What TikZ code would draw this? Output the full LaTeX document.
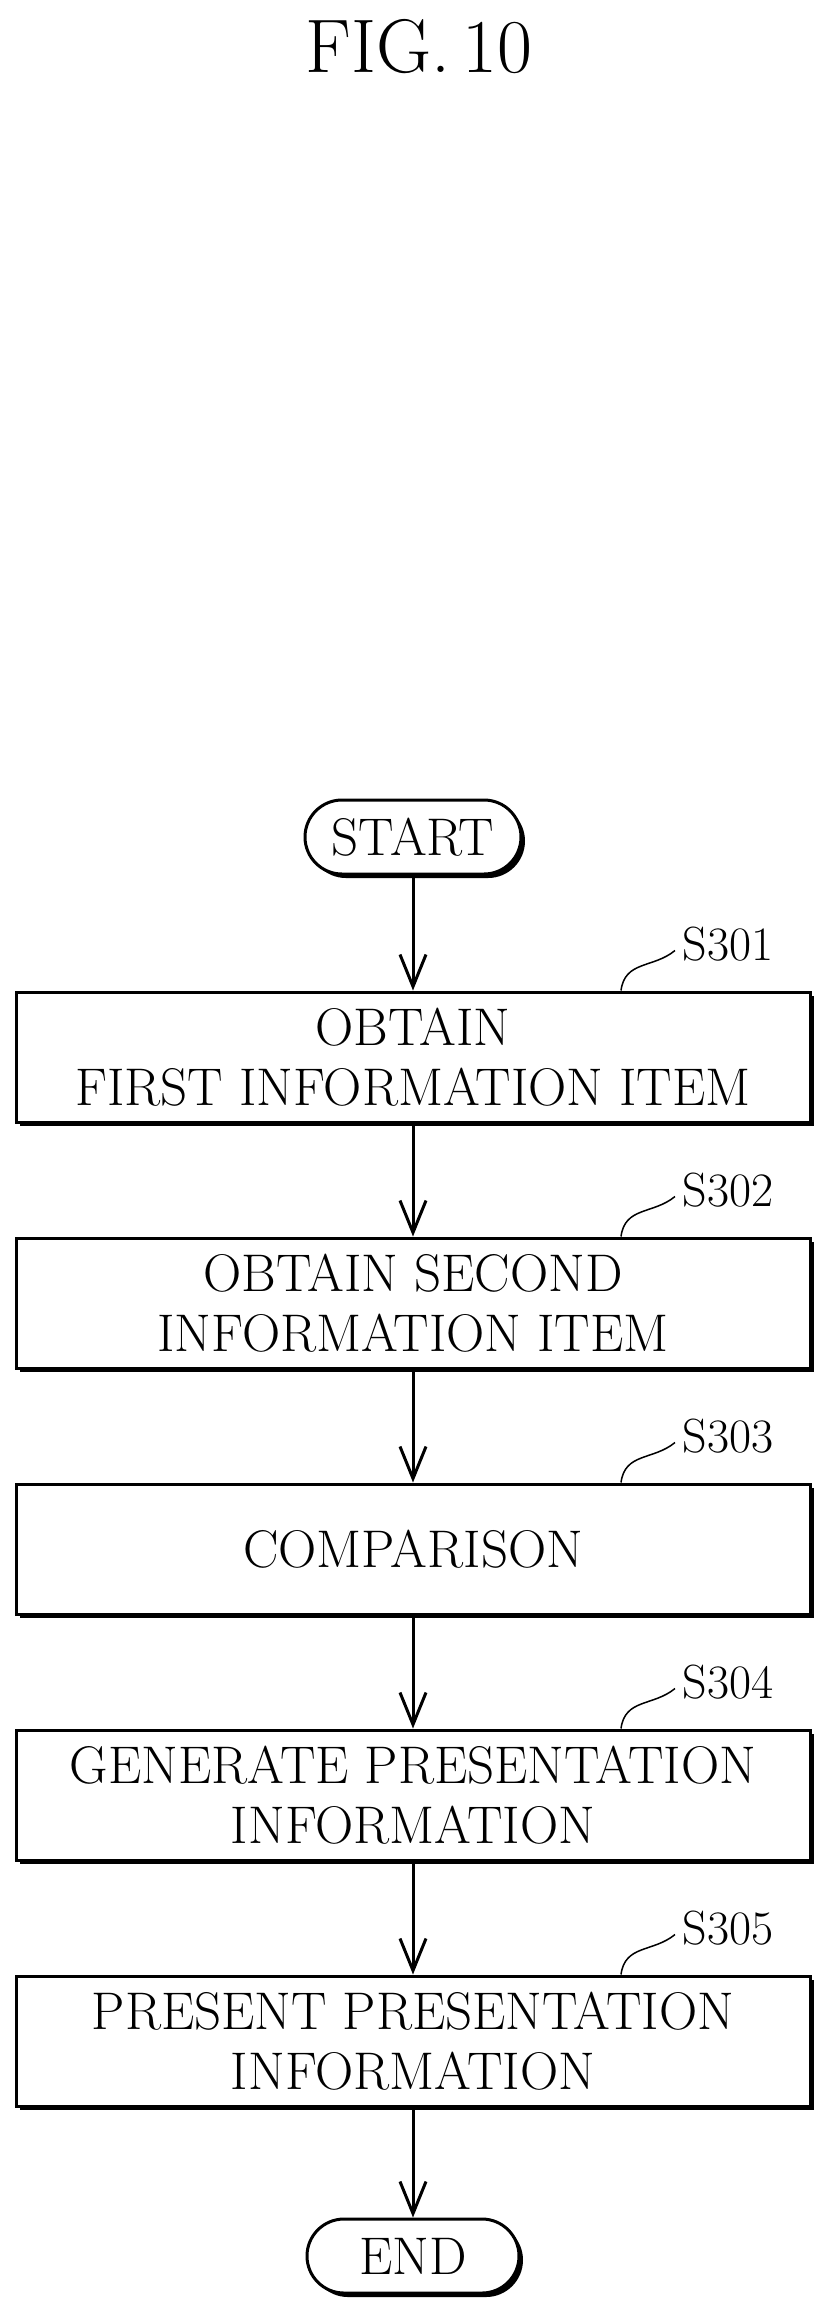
\documentclass[tikz,border=0pt]{standalone}
\usepackage{tikz}
\usetikzlibrary{arrows.meta,positioning,shadows}

\begin{document}
\begin{tikzpicture}[
  x=1pt,y=1pt,
  node distance=113pt,
  every node/.style={font=\fontsize{53}{60}\selectfont},
  proc/.style={draw,line width=3pt,minimum width=794pt,minimum height=130pt,align=center,fill=white,inner xsep=4pt,
    drop shadow={shadow xshift=4pt,shadow yshift=-4pt,fill=black,opacity=1}},
  term/.style={draw,line width=3pt,rounded corners=37pt,minimum height=74pt,fill=white,
    drop shadow={shadow xshift=4pt,shadow yshift=-4pt,fill=black,opacity=1}},
  tag/.style={anchor=west,font=\fontsize{48}{54}\selectfont},
  arr/.style={-{Straight Barb[length=32pt,width=26pt,line width=3pt]},line width=3pt}
]
\useasboundingbox (0,0) rectangle (822,-2319);
\node[font=\fontsize{76}{86}\selectfont] (title) at (419,-47) {FIG.\,10};

\node[term,minimum width=216pt] (start) at (413,-837) {START};
\node[proc,below=115pt of start] (s1) {OBTAIN\\FIRST INFORMATION ITEM};
\node[proc,below=of s1] (s2) {OBTAIN SECOND\\INFORMATION ITEM};
\node[proc,below=of s2] (s3) {COMPARISON};
\node[proc,below=of s3] (s4) {GENERATE PRESENTATION\\INFORMATION};
\node[proc,below=of s4] (s5) {PRESENT PRESENTATION\\INFORMATION};
\node[term,minimum width=212pt,below=110pt of s5] (end) {END};

% step labels
\foreach \s/\t in {s1/S301,s2/S302,s3/S303,s4/S304,s5/S305}{
  \coordinate (\s l) at ([xshift=262pt,yshift=40pt]\s.north);
  \draw[line width=1.5pt] ([xshift=208pt]\s.north) .. controls ([xshift=212pt,yshift=30pt]\s.north) and ([xshift=240pt,yshift=22pt]\s.north) .. (\s l);
  \node[tag] (\s t) at ([xshift=4pt,yshift=6pt]\s l) {\t};
}

\draw[arr] (start) -- (s1);
\draw[arr] (s1) -- (s2);
\draw[arr] (s2) -- (s3);
\draw[arr] (s3) -- (s4);
\draw[arr] (s4) -- (s5);
\draw[arr] (s5) -- (end);
\end{tikzpicture}
\end{document}
